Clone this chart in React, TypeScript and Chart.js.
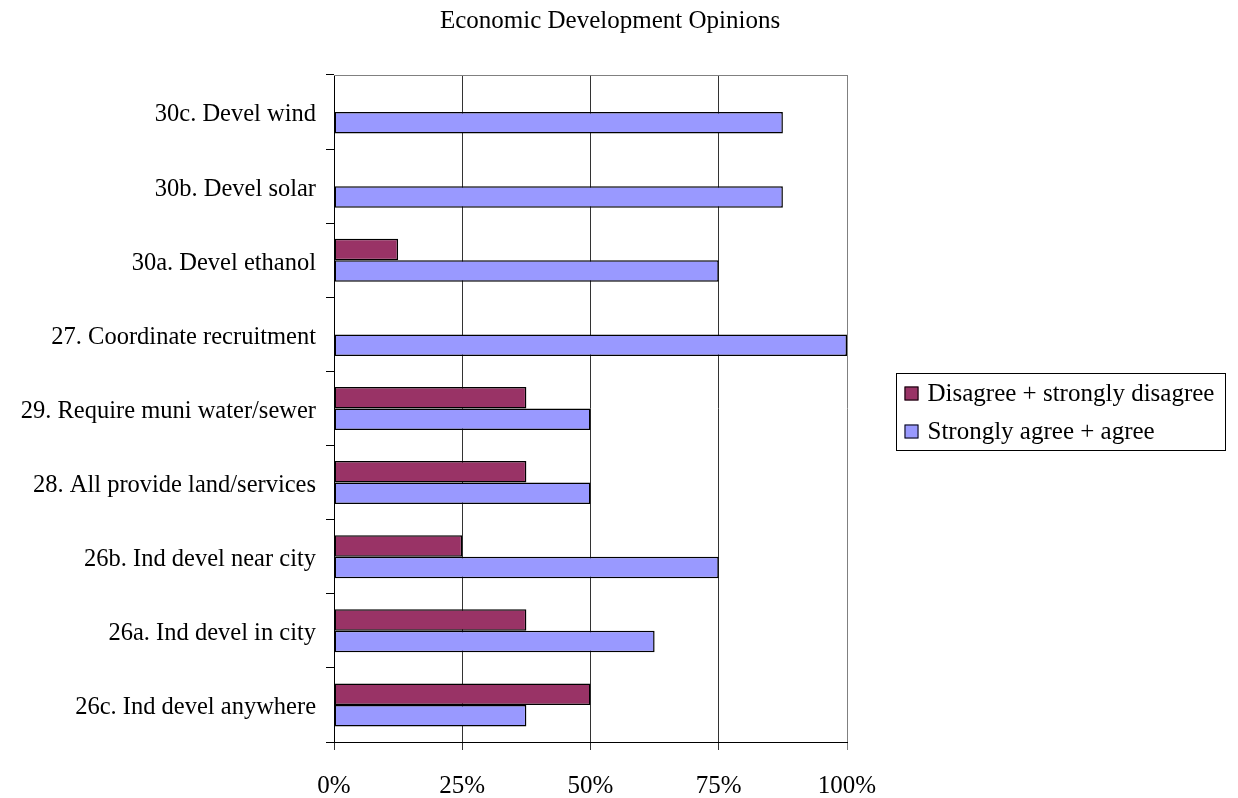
import React, { useEffect, useRef } from "react";
import { Chart, registerables } from "chart.js";

Chart.register(...registerables);

const TITLE = "Economic Development Opinions";
const CATEGORIES = [
  "30c. Devel wind",
  "30b. Devel solar",
  "30a. Devel ethanol",
  "27. Coordinate recruitment",
  "29. Require muni water/sewer",
  "28. All provide land/services",
  "26b. Ind devel near city",
  "26a. Ind devel in city",
  "26c. Ind devel anywhere",
];
const DISAGREE_LABEL = "Disagree + strongly disagree";
const AGREE_LABEL = "Strongly agree + agree";
const DISAGREE = [0, 0, 12.5, 0, 37.5, 37.5, 25, 37.5, 50];
const AGREE = [87.5, 87.5, 75, 100, 50, 50, 75, 62.5, 37.5];
const X_TICKS = [0, 25, 50, 75, 100];

const FONT = '"Liberation Serif", "Times New Roman", serif';
const MAROON = "#993366";
const PERIWINKLE = "#9999FF";

const decorPlugin = {
  id: "decor",
  beforeDatasetsDraw(chart: any) {
    const { ctx, chartArea } = chart;
    ctx.save();
    ctx.strokeStyle = "#808080";
    ctx.lineWidth = 1;
    ctx.beginPath();
    ctx.moveTo(chartArea.left, chartArea.top + 0.5);
    ctx.lineTo(chartArea.right, chartArea.top + 0.5);
    ctx.stroke();
    ctx.restore();
  },
  afterDraw(chart: any) {
    const { ctx, chartArea } = chart;
    ctx.save();
    // title
    ctx.fillStyle = "#000";
    ctx.font = `25px ${FONT}`;
    ctx.textAlign = "center";
    ctx.textBaseline = "middle";
    ctx.fillText(TITLE, 610, 21);
    // legend
    const boxLeft = chartArea.right + 49.5;
    const boxW = 329;
    const boxH = 77;
    const midY = (chartArea.top + chartArea.bottom) / 2 + 3;
    const boxTop = Math.round(midY - boxH / 2) + 0.5;
    ctx.strokeStyle = "#000";
    ctx.lineWidth = 1;
    ctx.strokeRect(boxLeft, boxTop, boxW, boxH);
    const items = chart.data.datasets.map((d: any) => ({ label: d.label, color: d.backgroundColor }));
    ctx.textAlign = "left";
    ctx.font = `25px ${FONT}`;
    items.forEach((it: any, i: number) => {
      const cy = boxTop + 20 + i * 38;
      ctx.fillStyle = it.color;
      ctx.fillRect(boxLeft + 8, cy - 7, 14, 14);
      ctx.strokeStyle = "#000";
      ctx.strokeRect(boxLeft + 8.5, cy - 7 + 0.5, 13, 13);
      ctx.fillStyle = "#000";
      ctx.fillText(it.label, boxLeft + 31, cy + 1);
    });
    ctx.restore();
  },
};

export default function App() {
  const ref = useRef<HTMLCanvasElement | null>(null);
  useEffect(() => {
    document.body.style.margin = "0";
    document.body.style.overflow = "hidden";
    Chart.defaults.color = "#000";
    Chart.defaults.font.family = FONT;
    const barCommon = {
      borderColor: "#000",
      borderWidth: 1.5,
      borderSkipped: false,
      barPercentage: 1,
      categoryPercentage: 0.58,
    };
    const chart = new Chart(ref.current as HTMLCanvasElement, {
      type: "bar",
      data: {
        labels: CATEGORIES,
        datasets: [
          { label: DISAGREE_LABEL, data: DISAGREE, backgroundColor: MAROON, ...barCommon },
          { label: AGREE_LABEL, data: AGREE, backgroundColor: PERIWINKLE, ...barCommon },
        ],
      },
      options: {
        indexAxis: "y",
        animation: false,
        responsive: false,
        maintainAspectRatio: false,
        layout: { padding: { top: 75, right: 391, left: 0, bottom: 0 } },
        plugins: {
          legend: { display: false },
          title: { display: false },
          tooltip: { enabled: false },
        },
        scales: {
          x: {
            min: 0,
            max: 100,
            afterBuildTicks: (scale: any) => {
              scale.ticks = X_TICKS.map((v) => ({ value: v }));
            },
            afterFit: (scale: any) => {
              scale.height = 56;
            },
            ticks: {
              font: { size: 25, family: FONT },
              color: "#000",
              padding: 21,
              callback: (v: any) => `${v}%`,
            },
            grid: {
              color: (c: any) => (c.tick && c.tick.value === 100 ? "#808080" : "#333"),
              lineWidth: 1,
              tickLength: 8,
              drawTicks: true,
            },
            border: { display: true, color: "#000", width: 1 },
          },
          y: {
            afterFit: (scale: any) => {
              scale.width = 334;
            },
            ticks: {
              font: { size: 24.5, family: FONT },
              color: "#000",
              padding: 10,
              labelOffset: 3,
            },
            grid: {
              offset: true,
              drawOnChartArea: false,
              drawTicks: true,
              tickLength: 8,
              color: "#000",
            },
            border: { display: true, color: "#000", width: 1 },
          },
        },
      },
      plugins: [decorPlugin],
    } as any);
    return () => chart.destroy();
  }, []);
  return (
    <div style={{ width: 1238, height: 798 }}>
      <canvas ref={ref} width={1238} height={798} style={{ display: "block" }} />
    </div>
  );
}
